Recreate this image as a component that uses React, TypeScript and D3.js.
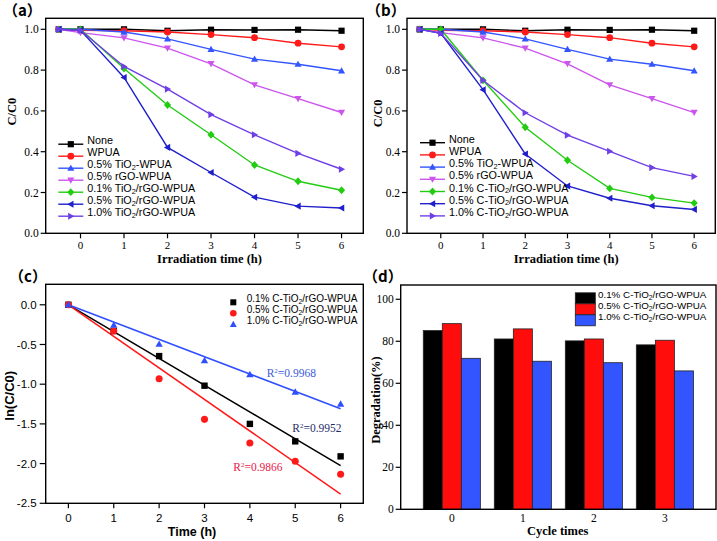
import React from 'react';
import * as d3 from 'd3';

// ---------- data ----------
const timesAB = [-0.5, 0, 1, 2, 3, 4, 5, 6];
const namesA = ['None', 'WPUA', '0.5% TiO₂-WPUA', '0.5% rGO-WPUA', '0.1% TiO₂/rGO-WPUA', '0.5% TiO₂/rGO-WPUA', '1.0% TiO₂/rGO-WPUA'];
const namesB = ['None', 'WPUA', '0.5% TiO₂-WPUA', '0.5% rGO-WPUA', '0.1% C-TiO₂/rGO-WPUA', '0.5% C-TiO₂/rGO-WPUA', '1.0% C-TiO₂/rGO-WPUA'];
const noneVals = [1.0, 1.0, 1.0, 0.993, 0.998, 0.997, 0.998, 0.993];
const wpuaVals = [1.0, 0.995, 0.993, 0.987, 0.974, 0.959, 0.932, 0.914];
const tio2Vals = [1.0, 1.0, 0.987, 0.953, 0.902, 0.854, 0.829, 0.797];
const rgoVals = [1.0, 0.984, 0.958, 0.908, 0.831, 0.728, 0.66, 0.592];
const a01Vals = [1.0, 1.0, 0.808, 0.629, 0.483, 0.335, 0.255, 0.211];
const a05Vals = [1.0, 0.995, 0.764, 0.421, 0.298, 0.177, 0.133, 0.124];
const a10Vals = [1.0, 0.995, 0.818, 0.707, 0.582, 0.483, 0.392, 0.314];
const b01Vals = [1.0, 1.0, 0.75, 0.52, 0.358, 0.22, 0.176, 0.148];
const b05Vals = [1.0, 0.98, 0.704, 0.389, 0.232, 0.172, 0.135, 0.117];
const b10Vals = [1.0, 0.98, 0.75, 0.591, 0.481, 0.402, 0.322, 0.279];
const seriesA = [noneVals, wpuaVals, tio2Vals, rgoVals, a01Vals, a05Vals, a10Vals];
const seriesB = [noneVals, wpuaVals, tio2Vals, rgoVals, b01Vals, b05Vals, b10Vals];
const yTicksAB = [0, 0.2, 0.4, 0.6, 0.8, 1.0];
const xTicksAB = [0, 1, 2, 3, 4, 5, 6];

const timesC = [0, 1, 2, 3, 4, 5, 6];
const namesC = ['0.1% C-TiO₂/rGO-WPUA', '0.5% C-TiO₂/rGO-WPUA', '1.0% C-TiO₂/rGO-WPUA'];
const c01Vals = [0, -0.33, -0.646, -1.019, -1.5, -1.72, -1.909];
const c05Vals = [0, -0.33, -0.931, -1.443, -1.741, -1.971, -2.135];
const c10Vals = [0, -0.256, -0.495, -0.7, -0.877, -1.099, -1.25];
const seriesC = [c01Vals, c05Vals, c10Vals];
const r2Labels = ['R²=0.9952', 'R²=0.9866', 'R²=0.9968'];
const yTicksC = [0, -0.5, -1.0, -1.5, -2.0, -2.5];

const cycles = [0, 1, 2, 3];
const d01Vals = [85.1, 81.1, 80.2, 78.3];
const d05Vals = [88.4, 85.9, 81.1, 80.5];
const d10Vals = [71.9, 70.5, 69.8, 65.9];
const seriesD = [d01Vals, d05Vals, d10Vals];
const yTicksD = [0, 20, 40, 60, 80, 100];

// ---------- styles ----------
const SERIF = '"Liberation Serif","Times New Roman",serif';
const SANS = '"Liberation Sans",Arial,sans-serif';
const CJK = '"Noto Sans CJK SC","Noto Sans CJK JP",sans-serif';
const lineColors = ['#000000', '#ff1a1a', '#3355ff', '#cc55ee', '#22cc11', '#1f1fcc', '#6f3fe6'];
const shapes = ['square', 'circle', 'up', 'down', 'diamond', 'left', 'right'];
const cColors = ['#000000', '#ff1a1a', '#2f4fff'];
const cShapes = ['square', 'circle', 'up'];
const r2Colors = ['#1f2d6b', '#e8194b', '#3b5bdb'];
const barColors = ['#000000', '#ff0d0d', '#3355ff'];

function markerPath(shape: string, r: number) {
  const t = r * 1.15;
  switch (shape) {
    case 'square': return `M${-r},${-r}h${2 * r}v${2 * r}h${-2 * r}Z`;
    case 'up': return `M0,${-t}L${t},${t * 0.75}L${-t},${t * 0.75}Z`;
    case 'down': return `M0,${t}L${t},${-t * 0.75}L${-t},${-t * 0.75}Z`;
    case 'left': return `M${-t},0L${t * 0.75},${-t}L${t * 0.75},${t}Z`;
    case 'right': return `M${t},0L${-t * 0.75},${-t}L${-t * 0.75},${t}Z`;
    case 'diamond': return `M0,${-t * 1.1}L${t},0L0,${t * 1.1}L${-t},0Z`;
    default: return '';
  }
}

function Marker({ shape, x, y, r, fill }: any) {
  if (shape === 'circle') return <circle cx={x} cy={y} r={r * 1.1} fill={fill} />;
  return <path d={markerPath(shape, r)} transform={`translate(${x},${y})`} fill={fill} />;
}

function Rich({ text, size }: { text: string; size: number }) {
  const parts = text.split(/([₂²])/);
  const out: any[] = [];
  let shift = 0;
  parts.forEach((p, i) => {
    if (p === '₂') {
      const d = size * 0.15;
      out.push(<tspan key={i} fontSize={size * 0.68} dy={d - shift}>2</tspan>);
      shift = d;
    } else if (p === '²') {
      const d = -size * 0.38;
      out.push(<tspan key={i} fontSize={size * 0.6} dy={d - shift}>2</tspan>);
      shift = d;
    } else if (p.length) {
      out.push(<tspan key={i} dy={-shift}>{p}</tspan>);
      shift = 0;
    }
  });
  return <>{out}</>;
}

function Frame({ x0, x1, y0, y1 }: any) {
  return <rect x={x0} y={y0} width={x1 - x0} height={y1 - y0} fill="none" stroke="#000" strokeWidth={1.4} />;
}

function PanelLabel({ x, y, letter }: any) {
  return (
    <text x={x} y={y} fontFamily={CJK} fontWeight="bold" fontSize={15} fill="#000">{`（${letter}）`}</text>
  );
}

function LinePanel({ x0, x1, y0, y1, data, names, legX, legY, legStep, letter, letterX, yTitleX, yTitleY }: any) {
  const x = d3.scaleLinear().domain([-0.8, 6.5]).range([x0, x1]);
  const y = d3.scaleLinear().domain([0, 1.054]).range([y1, y0]);
  const line = d3.line<number>().x((_, i) => x(timesAB[i])).y((d) => y(d));
  return (
    <g>
      <PanelLabel x={letterX} y={16} letter={letter} />
      {data.map((vals: number[], si: number) => (
        <g key={si}>
          <path d={line(vals) || ''} fill="none" stroke={lineColors[si]} strokeWidth={1.4} />
          {vals.map((v, i) => (
            <Marker key={i} shape={shapes[si]} x={x(timesAB[i])} y={y(v)} r={3.1} fill={lineColors[si]} />
          ))}
        </g>
      ))}
      <Frame x0={x0} x1={x1} y0={y0} y1={y1} />
      {yTicksAB.map((t) => (
        <g key={t}>
          <line x1={x0 - 5} x2={x0} y1={y(t)} y2={y(t)} stroke="#000" strokeWidth={1.2} />
          <text x={x0 - 7} y={y(t)} dy="0.35em" textAnchor="end" fontFamily={SERIF} fontSize={11.5}>{d3.format('.1f')(t)}</text>
        </g>
      ))}
      {xTicksAB.map((t) => (
        <g key={t}>
          <line x1={x(t)} x2={x(t)} y1={y1} y2={y1 + 5} stroke="#000" strokeWidth={1.2} />
          <text x={x(t)} y={y1 + 16} textAnchor="middle" fontFamily={SERIF} fontSize={11}>{t}</text>
        </g>
      ))}
      <text transform={`translate(${yTitleX},${yTitleY}) rotate(-90)`} textAnchor="middle" fontFamily={SERIF} fontWeight="bold" fontSize={12.5}>C/C0</text>
      <text x={(x0 + x1) / 2 + 5} y={262.5} textAnchor="middle" fontFamily={SERIF} fontWeight="bold" fontSize={12.5}>Irradiation time (h)</text>
      {names.map((n: string, i: number) => {
        const cy = legY + i * legStep;
        return (
          <g key={n}>
            <line x1={legX} x2={legX + 25} y1={cy} y2={cy} stroke={lineColors[i]} strokeWidth={1.4} />
            <Marker shape={shapes[i]} x={legX + 12.5} y={cy} r={3.1} fill={lineColors[i]} />
            <text x={legX + 29} y={cy} dy="0.34em" fontFamily={SANS} fontSize={10.8}>
              <Rich text={n} size={10.8} />
            </text>
          </g>
        );
      })}
    </g>
  );
}

function PanelC() {
  const x0 = 45.7, x1 = 363.3, y0 = 284.3, y1 = 503.3;
  const x = d3.scaleLinear().domain([-0.5, 6.5]).range([x0, x1]);
  const y = d3.scaleLinear().domain([-2.5, 0.258]).range([y1, y0]);
  const slopes = seriesC.map((vals) => d3.sum(vals, (v, i) => v * timesC[i]) / d3.sum(timesC, (t) => t * t));
  const r2Pos = [[292.3, 432.3], [233.3, 471], [266.7, 377.3]];
  return (
    <g>
      <PanelLabel x={9} y={282} letter="c" />
      {slopes.map((s, si) => (
        <line key={si} x1={x(0)} y1={y(0)} x2={x(6)} y2={y(6 * s)} stroke={cColors[si]} strokeWidth={1.5} />
      ))}
      {seriesC.map((vals, si) => (
        <g key={si}>
          {vals.map((v, i) => (
            <Marker key={i} shape={cShapes[si]} x={x(timesC[i])} y={y(v)} r={3.2} fill={cColors[si]} />
          ))}
        </g>
      ))}
      {r2Labels.map((l, i) => (
        <text key={l} x={r2Pos[i][0]} y={r2Pos[i][1]} fontFamily={SERIF} fontSize={11.5} fill={r2Colors[i]}>
          <Rich text={l} size={11.5} />
        </text>
      ))}
      <Frame x0={x0} x1={x1} y0={y0} y1={y1} />
      {yTicksC.map((t) => (
        <g key={t}>
          <line x1={x0 - 6} x2={x0} y1={y(t)} y2={y(t)} stroke="#000" strokeWidth={1.2} />
          <text x={x0 - 9} y={y(t)} dy="0.35em" textAnchor="end" fontFamily={SANS} fontSize={11.5}>{d3.format('.1f')(t).replace('−', '-')}</text>
        </g>
      ))}
      {timesC.map((t) => (
        <g key={t}>
          <line x1={x(t)} x2={x(t)} y1={y1} y2={y1 + 5} stroke="#000" strokeWidth={1.2} />
          <text x={x(t)} y={y1 + 18.5} textAnchor="middle" fontFamily={SANS} fontSize={11.5}>{t}</text>
        </g>
      ))}
      <text transform={`translate(14,395.8) rotate(-90)`} textAnchor="middle" fontFamily={SANS} fontWeight="bold" fontSize={13}>ln(C/C0)</text>
      <text x={192} y={535.5} textAnchor="middle" fontFamily={SANS} fontWeight="bold" fontSize={12.5}>Time (h)</text>
      {namesC.map((n, i) => {
        const cy = 302.3 + i * 11;
        return (
          <g key={n}>
            <Marker shape={cShapes[i]} x={233.3} y={cy} r={3} fill={cColors[i]} />
            <text x={246.7} y={cy} dy="0.34em" fontFamily={SANS} fontSize={10}>
              <Rich text={n} size={10} />
            </text>
          </g>
        );
      })}
    </g>
  );
}

function PanelD() {
  const x0 = 400.7, x1 = 716, y0 = 285, y1 = 509.3;
  const x = d3.scaleLinear().domain([-0.72, 3.72]).range([x0, x1]);
  const y = d3.scaleLinear().domain([0, 106.8]).range([y1, y0]);
  const bw = (x(1) - x(0)) * 0.268;
  return (
    <g>
      <PanelLabel x={363} y={281.5} letter="d" />
      {seriesD.map((vals, si) => (
        <g key={si}>
          {vals.map((v, i) => (
            <rect key={i} x={x(cycles[i]) + (si - 1.5) * bw} y={y(v)} width={bw} height={y(0) - y(v)}
              fill={barColors[si]} stroke="#222" strokeWidth={0.8} />
          ))}
        </g>
      ))}
      <Frame x0={x0} x1={x1} y0={y0} y1={y1} />
      {yTicksD.map((t) => (
        <g key={t}>
          <line x1={x0 - 5} x2={x0} y1={y(t)} y2={y(t)} stroke="#000" strokeWidth={1.2} />
          <text x={x0 - 7} y={y(t)} dy="0.35em" textAnchor="end" fontFamily={SERIF} fontSize={11.5}>{t}</text>
        </g>
      ))}
      {cycles.map((t) => (
        <text key={t} x={x(t)} y={522} textAnchor="middle" fontFamily={SERIF} fontSize={11.5}>{t}</text>
      ))}
      <text transform={`translate(380,400) rotate(-90)`} textAnchor="middle" fontFamily={SERIF} fontWeight="bold" fontSize={12.5}>Degradation(%)</text>
      <text x={557.7} y={535} textAnchor="middle" fontFamily={SERIF} fontWeight="bold" fontSize={12.5}>Cycle times</text>
      {namesC.map((n, i) => {
        const cy = 298.3 + i * 11;
        return (
          <g key={n}>
            <rect x={575.3} y={cy - 5.5} width={20} height={11} fill={barColors[i]} stroke="#222" strokeWidth={0.8} />
            <text x={598} y={cy} dy="0.34em" fontFamily={SANS} fontSize={9.8}>
              <Rich text={n} size={9.8} />
            </text>
          </g>
        );
      })}
    </g>
  );
}

export default function App() {
  return (
    <svg width={717} height={541} viewBox="0 0 717 541"
      style={{ position: 'absolute', left: 0, top: 0, background: '#fff' }}>
      <rect x={0} y={0} width={717} height={541} fill="#fff" />
      <LinePanel x0={45.7} x1={363.3} y0={18.3} y1={233.3} data={seriesA} names={namesA}
        legX={58.3} legY={144.2} legStep={12} letter="a" letterX={3} yTitleX={16} yTitleY={111.7} />
      <LinePanel x0={407} x1={715.3} y0={18.3} y1={233.3} data={seriesB} names={namesB}
        legX={420} legY={142.7} legStep={12.2} letter="b" letterX={366} yTitleX={382} yTitleY={113.3} />
      <PanelC />
      <PanelD />
    </svg>
  );
}
